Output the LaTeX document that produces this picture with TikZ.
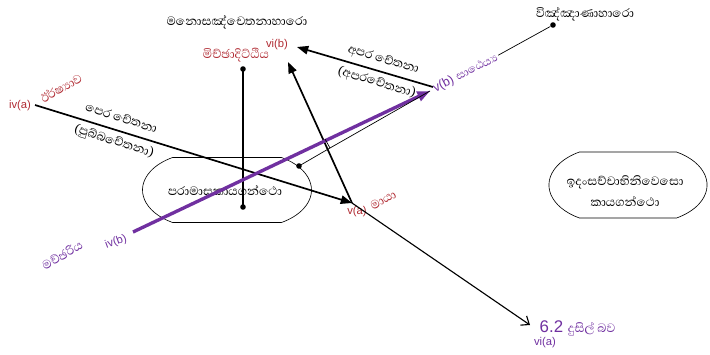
\documentclass[tikz,border=0pt]{standalone}
\usepackage{fontspec}
\setmainfont{Liberation Sans}
\newfontfamily\sinfont[Script=Sinhala]{Abhaya Libre}
\usetikzlibrary{arrows.meta, shapes.misc}
\definecolor{labred}{RGB}{176,42,50}
\definecolor{labpurple}{RGB}{112,48,160}
\tikzset{
	sintext/.style={font=\sinfont\fontsize{11}{17}\selectfont, inner sep=1pt},
	redlbl/.style={text=labred, font=\fontsize{8}{9}\selectfont, inner sep=1pt},
	purplelbl/.style={text=labpurple, font=\fontsize{8}{9}\selectfont, inner sep=1pt},
	gantha/.style={shape=rounded rectangle, rounded rectangle arc length=120, draw, line width=0.45pt, inner sep=0pt, xscale=1.6},
	dot/.style={shape=circle, fill, inner sep=0pt, minimum size=0.14cm},
	mainarrow/.style={line width=1.2pt, -{Triangle[length=8pt, width=6pt]}},
	purplearrow/.style={draw=labpurple, line width=2.4pt, -{Triangle[length=9pt, width=7pt]}, color=labpurple},
	thinarrow/.style={line width=0.8pt, -{Straight Barb[length=5pt, width=8pt]}},
	thinline/.style={line width=0.5pt}
}
\begin{document}
\begin{tikzpicture}[x=0.025cm, y=-0.025cm]
	\useasboundingbox (0, 0) rectangle (710, 355);
	% Points:
	\coordinate (iva) at (35, 105);
	\coordinate (va) at (352, 203);
	\coordinate (vb) at (430, 91);
	\coordinate (ivb) at (133, 232);
	\coordinate (vib) at (288, 62);
	\coordinate (apara) at (433, 87);
	\coordinate (vibtop) at (297, 47);
	\coordinate (via) at (530, 325);
	\coordinate (knee) at (330, 148);
	\coordinate (kneetop) at (325, 139);
	% Shapes and their texts:
	\node[gantha, minimum width=2.64cm, minimum height=1.625cm] (paramasa) at (227, 190) {};
	\node[sintext] (paramasatext) at (225, 190) {පරාමාසකායගන්ථො};
	\node[gantha, minimum width=2.47cm, minimum height=1.65cm] (idam) at (628, 185) {};
	\node[sintext, align=center, font=\sinfont\fontsize{11}{15}\selectfont] (idamtext) at (625, 191) {ඉදංසච්චාභිනිවෙසො\\කායගන්ථො};
	% Dots:
	\node[dot] (ditthitop) at (243, 69) {};
	\node[dot] (ditthibot) at (243, 207) {};
	\node[dot] (edge) at (299, 166) {};
	\node[dot] (vinnana) at (553, 25) {};
	% Top texts:
	\node[sintext] (manosa) at (237, 22) {මනොසඤ්චෙතනාහාරො};
	\node[sintext] (vinnanatext) at (585, 14) {විඤ්ඤාණාහාරො};
	\node[sintext, text=labred] (miccha) at (236, 55) {මිච්ඡාදිට්ඨිය};
	\node[redlbl] (viblbl) at (277, 45) {vi(b)};
	% Left texts:
	\node[redlbl] (ivalbl) at (20, 106) {iv(a)};
	\node[sintext, text=labred, rotate=30] (irsha) at (61, 88) {ඊර්ෂ්‍යාව};
	\node[purplelbl, rotate=20] (ivblbl) at (116, 242) {iv(b)};
	\node[sintext, text=labpurple, rotate=30] (macchariya) at (62, 255) {මච්ඡරිය};
	% Lower texts:
	\node[redlbl] (valbl) at (357, 212) {v(a)};
	\node[sintext, text=labred, rotate=30] (maya) at (383, 200) {මායා};
	\node[text=labpurple, anchor=west, inner sep=1pt] (dusil) at (538, 328) {\fontsize{12}{14}\selectfont 6.2 \sinfont\fontsize{11}{14}\selectfont දුසිල් බව};
	\node[purplelbl] (vialbl) at (545, 343) {vi(a)};
	% Lines and arrows:
	\draw[line width=1pt] (ditthitop.center) -- (ditthibot.center);
	\draw[mainarrow] (iva) -- node[sintext, sloped, align=center, pos=0.26] (pubba) {පෙර චේතනා\\(පුබ්බචේතනා)} (va);
	\draw[mainarrow] (apara) -- node[sintext, sloped, align=center, pos=0.39] (aparatext) {අපර චේතනා\\(අපරචේතනා)} (vibtop);
	\draw[mainarrow] (va) -- (vib);
	\draw[thinarrow] (va) -- (via);
	\draw[purplearrow] (ivb) -- (vb);
	\node[text=labpurple, rotate=27, anchor=base west, inner sep=1pt] (vblbl) at (434, 93) {\fontsize{9}{10}\selectfont v(b) \sinfont\fontsize{10}{12}\selectfont සාඨෙය්‍ය};
	\draw[thinline] (vblbl) -- (vinnana);
	\draw[thinline] (edge.center) -- (knee) -- (vb);
	\draw[thinline] (knee) -- (kneetop);
\end{tikzpicture}
\end{document}
